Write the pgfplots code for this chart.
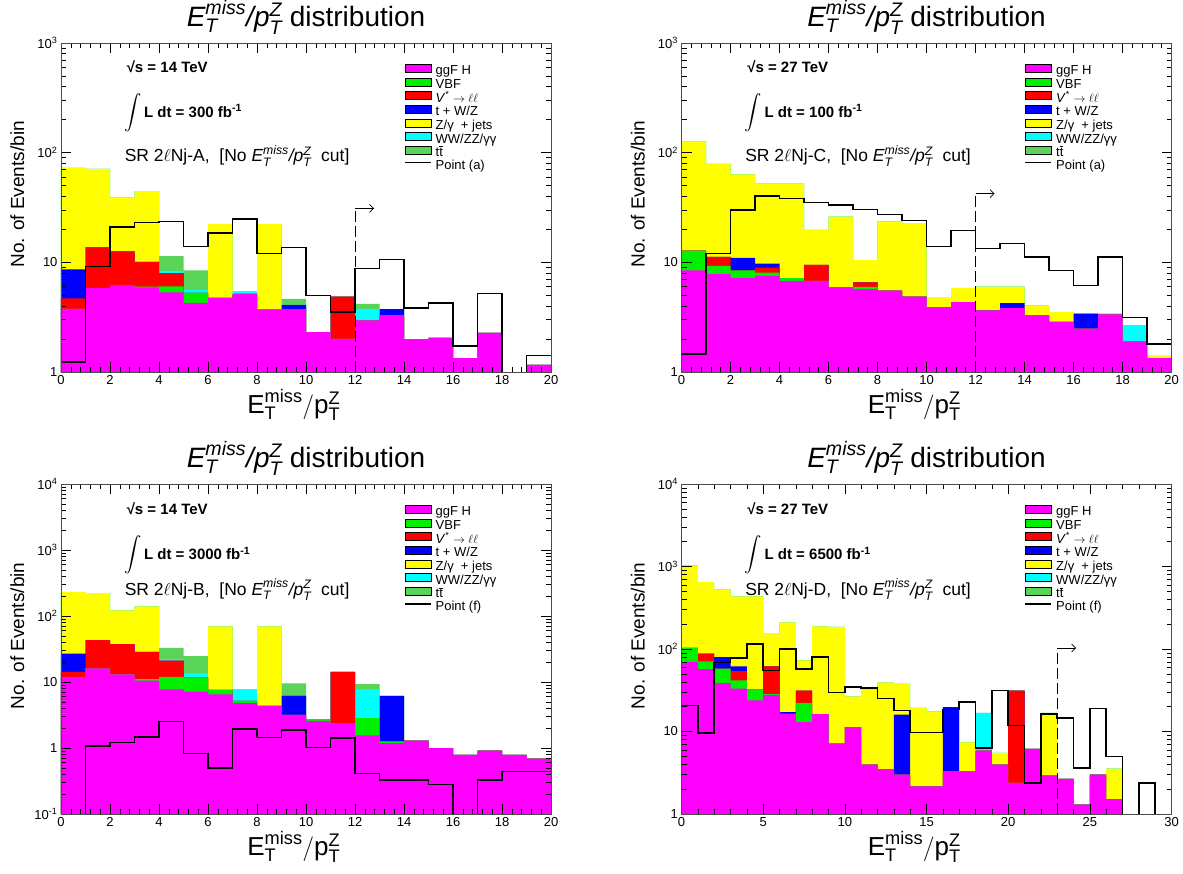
\documentclass[border=0pt]{standalone}
\usepackage{amsmath}
\usepackage{fontspec}
\setmainfont{Liberation Sans}
\usepackage{pgfplots}
\usepackage{pgfplotstable}
\usetikzlibrary{arrows.meta}
\pgfplotsset{compat=1.18}

\definecolor{cH}{RGB}{255,0,255}
\definecolor{cVBF}{RGB}{0,240,0}
\definecolor{cVS}{RGB}{255,0,0}
\definecolor{cTW}{RGB}{0,0,255}
\definecolor{cZJ}{RGB}{255,255,0}
\definecolor{cWW}{RGB}{0,255,255}
\definecolor{cTT}{RGB}{89,212,89}

\newcommand{\emiss}{$\textit{E}_{\textit{T}}^{\textit{miss}}\textit{/}\textit{p}_{\textit{T}}^{\textit{Z}}$}

% stacked tops (cumulative); 0.001 = empty bin
\pgfplotstableread{
x h vbf vs tw zj ww tt pt
0 3.77 3.77 4.70 8.65 72.8 72.8 72.8 1.23
1 5.83 5.83 13.7 13.7 71.3 71.3 71.3 9.14
2 6.12 6.12 12.6 12.6 39.0 39.0 39.0 20.9
3 5.91 6.00 10.1 10.1 44.5 44.5 44.5 23.2
4 5.33 6.04 7.96 7.96 7.96 8.35 11.4 23.6
5 4.27 5.26 5.26 5.26 5.26 5.60 8.47 14.0
6 4.74 4.74 4.74 4.74 22.3 22.3 22.3 18.5
7 5.15 5.15 5.15 5.15 5.15 5.45 5.45 24.9
8 3.70 3.70 3.70 3.70 22.3 22.3 22.3 12.0
9 3.74 3.74 3.74 4.10 4.10 4.10 4.64 13.6
10 2.31 2.31 2.31 2.31 2.31 2.31 2.31 4.97
11 2.00 2.00 4.87 4.87 4.87 4.87 4.87 3.52
12 2.96 2.96 2.96 2.96 2.96 3.77 4.19 8.77
13 3.29 3.29 3.29 3.75 3.75 3.75 3.75 10.6
14 1.98 1.98 1.98 1.98 1.98 1.98 1.98 3.85
15 2.05 2.05 2.05 2.05 2.05 2.05 2.05 4.27
16 1.34 1.34 1.34 1.34 1.34 1.34 1.34 1.73
17 2.28 2.28 2.28 2.28 2.28 2.28 2.28 5.22
18 0.001 0.001 0.001 0.001 0.001 0.001 0.001 0.001
19 1.16 1.16 1.16 1.16 1.16 1.16 1.16 1.41
20 1.16 1.16 1.16 1.16 1.16 1.16 1.16 1.41
}\tabA

\pgfplotstableread{
x h vbf vs tw zj ww tt pt
0 8.47 12.8 12.8 12.8 126 126 126 1.46
1 7.80 9.27 11.2 11.2 79.0 79.0 79.0 12.0
2 7.18 8.47 8.47 11.0 63.4 63.4 63.4 30.0
3 7.53 8.07 8.95 9.73 52.2 52.2 52.2 40.1
4 6.79 7.18 7.18 7.18 52.2 52.2 52.2 38.3
5 6.79 6.79 9.46 9.46 19.8 19.8 19.8 35.2
6 5.91 5.91 5.91 5.91 26.1 26.1 26.1 33.3
7 5.71 5.99 6.56 6.56 10.5 10.5 10.5 30.4
8 5.52 5.52 5.52 5.52 23.6 23.6 23.6 27.4
9 4.87 4.87 4.87 4.87 22.8 22.8 22.8 24.1
10 3.90 3.90 3.90 3.90 4.81 4.81 4.81 14.0
11 4.33 4.33 4.33 4.33 5.83 5.83 5.83 19.6
12 3.65 3.65 3.65 3.65 6.00 6.00 6.00 13.4
13 3.83 3.83 3.83 4.24 6.00 6.00 6.00 14.8
14 3.29 3.29 3.29 3.29 4.04 4.04 4.04 11.2
15 2.86 2.86 2.86 2.86 3.52 3.52 3.52 8.47
16 2.49 2.49 2.49 3.40 3.40 3.40 3.40 6.12
17 3.35 3.35 3.35 3.35 3.40 3.40 3.40 11.2
18 1.89 1.89 1.89 1.89 1.89 2.67 2.67 3.13
19 1.34 1.34 1.34 1.34 1.40 1.40 1.40 1.80
20 1.34 1.34 1.34 1.34 1.40 1.40 1.40 1.80
}\tabC

\pgfplotstableread{
x h vbf vs tw zj ww tt pt
0 11.8 11.8 14.3 27.0 230 230 230 0.001
1 16.1 16.1 43.0 43.0 222 222 222 1.08
2 13.0 13.0 37.4 37.4 122 122 122 1.22
3 10.5 11.1 28.7 28.7 140 140 140 1.47
4 7.75 12.0 21.0 21.0 21.0 22.2 32.9 2.52
5 7.15 11.8 11.8 11.8 11.8 13.5 24.7 0.82
6 6.52 7.57 7.57 7.57 69.8 69.8 69.8 0.50
7 4.77 5.17 5.17 5.17 5.17 7.75 7.75 1.93
8 4.35 4.35 4.35 4.35 69.8 69.8 69.8 1.45
9 3.18 3.18 3.18 6.22 6.22 6.22 9.55 1.89
10 2.58 2.74 2.74 2.74 2.74 2.74 2.74 1.02
11 2.38 2.38 14.3 14.3 14.3 14.3 14.3 1.42
12 1.55 2.83 2.83 2.83 2.83 7.75 9.33 0.41
13 1.19 1.26 1.26 6.15 6.15 6.15 6.15 0.326
14 1.29 1.29 1.29 1.29 1.29 1.29 1.29 0.326
15 1.00 1.00 1.00 1.00 1.00 1.00 1.00 0.28
16 0.79 0.79 0.79 0.79 0.79 0.79 0.79 0.001
17 0.91 0.91 0.91 0.91 0.91 0.91 0.91 0.33
18 0.79 0.79 0.79 0.79 0.79 0.79 0.79 0.44
19 0.69 0.69 0.69 0.69 0.69 0.69 0.69 0.44
20 0.69 0.69 0.69 0.69 0.69 0.69 0.69 0.44
}\tabB

\pgfplotstableread{
x h vbf vs tw zj ww tt pt
0 69.5 103 103 103 1033 1033 1033 20.6
1 57.2 70.9 87.8 87.8 649 649 649 9.6
2 38.7 57.8 57.8 80.0 524 524 524 68.9
3 33.0 41.7 54.1 61.6 435 435 435 77.8
4 23.9 32.1 32.1 32.1 435 435 435 115
5 27.9 28.3 61.6 61.6 156 156 156 54.6
6 16.4 16.4 16.4 17.2 211 211 211 100
7 13.0 22.2 31.3 31.3 72.9 72.9 72.9 57.2
8 16.3 16.3 16.3 16.3 188 188 188 80.0
9 7.12 7.12 7.12 7.12 185 185 185 29.8
10 11.3 11.3 11.3 11.3 26.7 26.7 26.7 34.6
11 3.96 3.96 3.96 3.96 32.1 32.1 32.1 33.7
12 3.51 3.51 3.51 3.51 39.4 39.4 39.4 25.0
13 3.00 3.00 3.00 16.0 38.7 38.7 38.7 18.1
14 2.16 2.16 2.16 2.16 19.3 19.3 19.3 9.77
15 2.16 2.16 2.16 2.16 17.5 17.5 17.5 9.77
16 3.29 3.29 3.29 19.8 19.8 19.8 19.8 18.5
17 3.29 3.29 3.29 3.29 7.39 7.39 7.39 22.8
18 5.86 5.86 5.86 5.86 5.86 16.8 16.8 6.31
19 3.96 3.96 3.96 3.96 5.49 5.49 5.49 31.5
20 2.38 2.38 31.3 31.3 31.3 31.3 31.3 11.9
21 6.14 6.14 6.14 6.14 6.14 6.14 6.14 2.38
22 2.91 2.91 2.91 2.91 16.8 16.8 16.8 16.4
23 2.66 2.66 2.66 2.66 2.66 2.66 2.66 14.6
24 1.30 1.30 1.30 1.30 1.30 1.30 1.30 3.61
25 3.00 3.00 3.00 3.00 3.00 3.00 3.00 18.9
26 1.52 1.52 1.52 1.52 3.54 3.54 3.54 5.00
27 0.001 0.001 0.001 0.001 0.001 0.001 0.001 0.001
28 0.001 0.001 0.001 0.001 0.001 0.001 0.001 2.38
29 0.001 0.001 0.001 0.001 0.001 0.001 0.001 0.001
30 0.001 0.001 0.001 0.001 0.001 0.001 0.001 0.001
}\tabD

\pgfkeys{/pgf/number format/assume math mode=true}
\pgfplotsset{
  every axis/.append style={
    scale only axis, width=490pt,
    axis on top, tick align=inside, tick pos=both,
    major tick length=10pt, minor tick length=5pt,
    minor x tick num=4,
    axis line style={line width=0.7pt, black!70},
    every tick/.append style={black, line width=0.5pt},
    tick label style={font=\fontsize{13}{13}\selectfont},
    title style={font=\fontsize{28}{28}\selectfont, at={(0.5,1)}, anchor=base, yshift=11pt},
    xlabel style={font=\fontsize{26}{26}\selectfont, at={(0.475,-0.1)}, anchor=center},
    ylabel style={font=\fontsize{19}{19}\selectfont, at={(-0.089,0.54)}, anchor=center},
    legend cell align=left,
    legend style={draw=none, fill=none, at={(0.70,0.937)}, anchor=north west,
      inner sep=0pt, font=\fontsize{13}{13}\selectfont, row sep=-0.8pt, column sep=3pt,
      nodes={inner sep=1pt, text height=9pt, text depth=2.5pt}},
  },
  boxleg/.style={legend image code/.code={\fill[##1] (0pt,-0.5pt) rectangle (26pt,7.5pt);}},
  lineleg/.style={legend image code/.code={\draw[##1] (0pt,3.5pt) -- (26pt,3.5pt);}},
}

\newcommand{\rootlegend}[1]{%
  \addlegendimage{boxleg, fill=cH}\addlegendentry{ggF H}
  \addlegendimage{boxleg, fill=cVBF}\addlegendentry{VBF}
  \addlegendimage{boxleg, fill=cVS}\addlegendentry{\textit{V}\textsuperscript{*} $\rightarrow\ell\ell$}
  \addlegendimage{boxleg, fill=cTW}\addlegendentry{t + W/Z}
  \addlegendimage{boxleg, fill=cZJ}\addlegendentry{Z/γ\ \ + jets}
  \addlegendimage{boxleg, fill=cWW}\addlegendentry{WW/ZZ/γγ}
  \addlegendimage{boxleg, fill=cTT}\addlegendentry{t$\overline{\mbox{t}}$}
  \addlegendimage{lineleg, black, line width=1.5pt}\addlegendentry{Point (#1)}
}

\newcommand{\stackhist}[1]{%
  \addplot[const plot, fill=cTT, draw=none, forget plot] table[x=x, y=tt] {#1} \closedcycle;
  \addplot[const plot, fill=cWW, draw=none, forget plot] table[x=x, y=ww] {#1} \closedcycle;
  \addplot[const plot, fill=cZJ, draw=none, forget plot] table[x=x, y=zj] {#1} \closedcycle;
  \addplot[const plot, fill=cTW, draw=none, forget plot] table[x=x, y=tw] {#1} \closedcycle;
  \addplot[const plot, fill=cVS, draw=none, forget plot] table[x=x, y=vs] {#1} \closedcycle;
  \addplot[const plot, fill=cVBF, draw=none, forget plot] table[x=x, y=vbf] {#1} \closedcycle;
  \addplot[const plot, fill=cH, draw=none, forget plot] table[x=x, y=h] {#1} \closedcycle;
  \addplot[const plot, black, line width=1.5pt, forget plot] table[x=x, y=pt] {#1};
}

\newcommand{\info}[6]{% energy, lumi, region, y1, y2, y3
  \node[anchor=base west, font=\bfseries\fontsize{15}{15}\selectfont] at (axis description cs:0.127,#4) {√s = #1 TeV};
  \node[anchor=base west, font=\bfseries\fontsize{15}{15}\selectfont] at (axis description cs:0.122,#5)
    {{\fontsize{17}{17}\selectfont$\displaystyle\int$}\,L dt = #2 fb\textsuperscript{-1}};
  \node[anchor=base west, font=\fontsize{17.5}{17.5}\selectfont] at (axis description cs:0.123,#6)
    {SR 2$\ell$Nj-#3,\ \ [No \emiss\ \ cut]};
}

\newcommand{\cutline}[2]{%
  \draw[dash pattern=on 11pt off 4pt, line width=0.6pt] (axis cs:#1,1) -- (axis cs:#1,#2);
  \draw[-{Straight Barb[length=4pt,width=8pt]}, line width=0.7pt] (axis cs:#1,#2) -- ([xshift=19pt]axis cs:#1,#2);
}

\begin{document}
\begin{tikzpicture}
\path[use as bounding box] (0pt,0pt) rectangle (1183pt,-873pt);

% top left
\begin{axis}[at={(61pt,-372pt)}, anchor=south west, height=329pt,
  ymode=log, log origin y=infty,
  title={\emiss\ distribution},
  xlabel={$\textrm{E}_{\textrm{T}}^{\textrm{miss}}/\textrm{p}_{\textrm{T}}^{\textrm{Z}}$},
  ylabel={No. of Events/bin},
  xmin=0, xmax=20, xtick={0,2,...,20}, ymin=1, ymax=1000,
  ytick={1,10,100,1000}, yticklabels={1,10,10\textsuperscript{2},10\textsuperscript{3}}]
  \rootlegend{a}
  \stackhist{\tabA}
  \cutline{12}{31}
  \info{14}{300}{A}{0.909}{0.775}{0.639}
\end{axis}

% top right
\begin{axis}[at={(681.5pt,-372pt)}, anchor=south west, height=329pt,
  ymode=log, log origin y=infty,
  title={\emiss\ distribution},
  xlabel={$\textrm{E}_{\textrm{T}}^{\textrm{miss}}/\textrm{p}_{\textrm{T}}^{\textrm{Z}}$},
  ylabel={No. of Events/bin},
  xmin=0, xmax=20, xtick={0,2,...,20}, ymin=1, ymax=1000,
  ytick={1,10,100,1000}, yticklabels={1,10,10\textsuperscript{2},10\textsuperscript{3}}]
  \rootlegend{a}
  \stackhist{\tabC}
  \cutline{12}{42.4}
  \info{27}{100}{C}{0.909}{0.775}{0.639}
\end{axis}

% bottom left
\begin{axis}[at={(61pt,-814pt)}, anchor=south west, height=330pt,
  ymode=log, log origin y=infty,
  title={\emiss\ distribution},
  xlabel={$\textrm{E}_{\textrm{T}}^{\textrm{miss}}/\textrm{p}_{\textrm{T}}^{\textrm{Z}}$},
  ylabel={No. of Events/bin},
  xmin=0, xmax=20, xtick={0,2,...,20}, ymin=0.1, ymax=10000,
  ytick={0.1,1,10,100,1000,10000},
  yticklabels={10\textsuperscript{-1},1,10,10\textsuperscript{2},10\textsuperscript{3},10\textsuperscript{4}}]
  \rootlegend{f}
  \stackhist{\tabB}
  \info{14}{3000}{B}{0.907}{0.772}{0.663}
\end{axis}

% bottom right
\begin{axis}[at={(681.5pt,-814pt)}, anchor=south west, height=330pt,
  ymode=log, log origin y=infty,
  title={\emiss\ distribution},
  xlabel={$\textrm{E}_{\textrm{T}}^{\textrm{miss}}/\textrm{p}_{\textrm{T}}^{\textrm{Z}}$},
  ylabel={No. of Events/bin},
  xmin=0, xmax=30, xtick={0,5,...,30}, ymin=1, ymax=10000,
  ytick={1,10,100,1000,10000},
  yticklabels={1,10,10\textsuperscript{2},10\textsuperscript{3},10\textsuperscript{4}}]
  \rootlegend{f}
  \stackhist{\tabD}
  \cutline{23}{103}
  \info{27}{6500}{D}{0.907}{0.772}{0.663}
\end{axis}
\end{tikzpicture}
\end{document}
